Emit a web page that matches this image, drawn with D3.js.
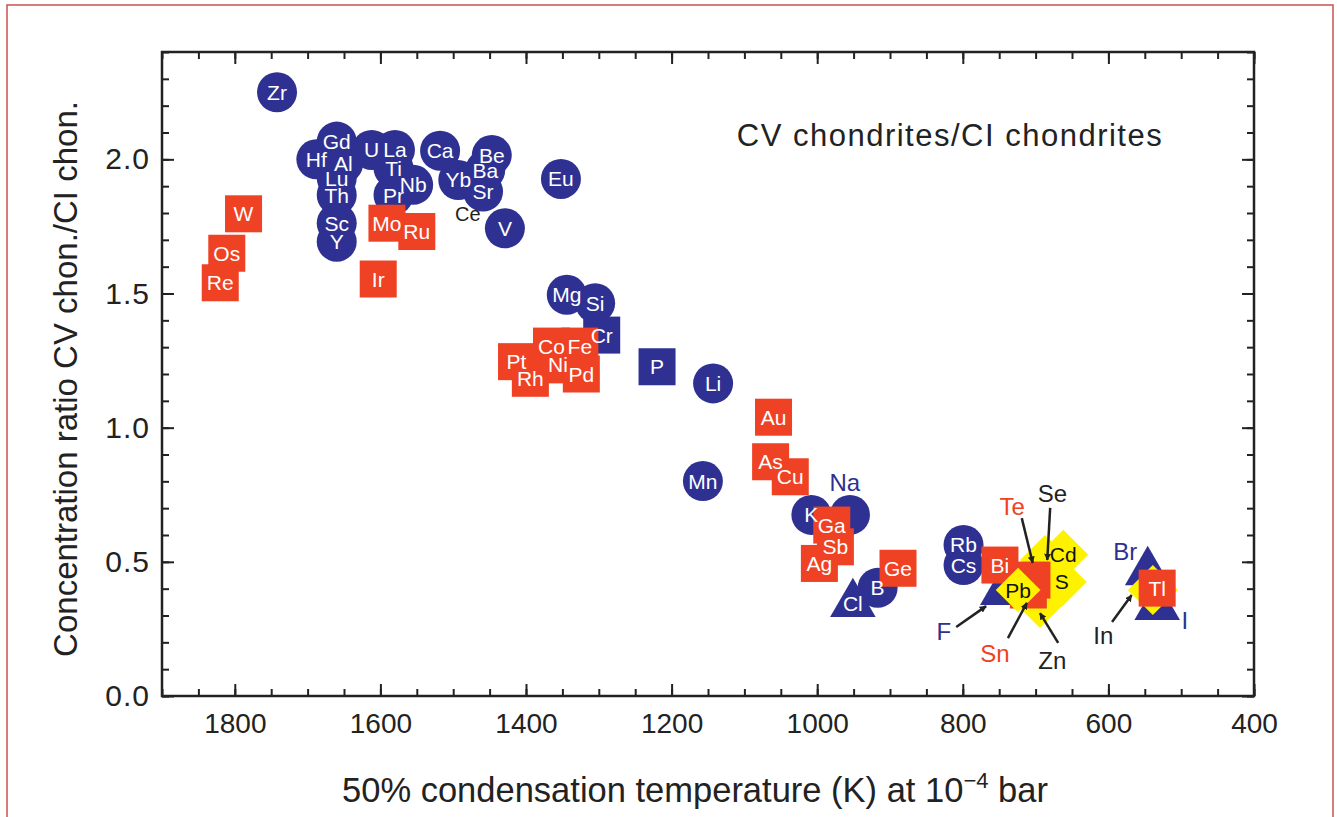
<!DOCTYPE html>
<html lang="en">

<head>
  <meta charset="UTF-8">
  <title>CV chondrites / CI chondrites</title>
  <script src="https://d3js.org/d3.v7.min.js"></script>
  <style>
    body {
      margin: 0;
      background: #fff;
      font-family: "Liberation Sans", Arial, sans-serif;
    }

    .tick text {
      font-size: 28px;
      fill: #222;
      font-family: "Liberation Sans", Arial, sans-serif;
    }

    .y-axis .tick text {
      font-size: 30px;
      letter-spacing: 1px;
    }

    .tick line {
      stroke: #222;
      stroke-width: 2px;
    }

    .mark-label {
      font-size: 21px;
      fill: #fff;
      text-anchor: middle;
      dominant-baseline: central;
    }

    .axis-title {
      fill: #222;
    }
  </style>
</head>

<body>
  <div id="chart"></div>

  <script>
    // [element, 50% condensation temperature (K), CV/CI ratio]
    const blueCircles = [
      ["Zr", 1742, 2.25], ["Hf", 1688, 2.00], ["Gd", 1660, 2.066], ["Al", 1651, 1.985],
      ["Lu", 1660, 1.93], ["Th", 1660, 1.867], ["Sc", 1660, 1.762], ["Y", 1660, 1.693],
      ["U", 1612, 2.035], ["La", 1580, 2.035], ["Ti", 1582, 1.967], ["Pr", 1582, 1.867],
      ["Nb", 1555, 1.905], ["Ca", 1518, 2.032], ["Be", 1447, 2.016], ["Ba", 1456, 1.96],
      ["Yb", 1493, 1.923], ["Sr", 1459, 1.88], ["V", 1429, 1.743], ["Eu", 1352, 1.927],
      ["Mg", 1344, 1.495], ["Si", 1305, 1.464], ["Li", 1143, 1.165], ["Mn", 1157, 0.801],
      ["K", 1008, 0.675], ["", 955, 0.675], ["B", 917, 0.403], ["Rb", 799, 0.563], ["Cs", 799, 0.488]
    ];

    const blueSquares = [["Cr", 1296, 1.345], ["P", 1220, 1.227]];

    const redSquares = [
      ["W", 1788, 1.797], ["Os", 1811, 1.65], ["Re", 1820, 1.54], ["Mo", 1591, 1.762],
      ["Ru", 1550, 1.731], ["Ir", 1603, 1.554], ["Pt", 1413, 1.246], ["Rh", 1394, 1.184],
      ["Co", 1365, 1.304], ["Fe", 1326, 1.304], ["Ni", 1356, 1.234], ["Pd", 1324, 1.20],
      ["Au", 1060, 1.039], ["As", 1064, 0.873], ["Cu", 1037, 0.817], ["Ga", 980, 0.637],
      ["Sb", 975, 0.556], ["Ag", 997, 0.494], ["Ge", 889, 0.476], ["Bi", 749, 0.488],
      ["", 705, 0.432], ["", 710, 0.395], ["Tl", 533, 0.402]
    ];

    const blueTriangles = [["Cl", 951, 0.343], ["", 745, 0.388], ["", 546, 0.462], ["", 533, 0.332]];

    const yellowDiamonds = [
      ["Cd", 662, 0.526], ["S", 664, 0.425], ["", 694, 0.347], ["", 687, 0.507], ["", 539, 0.395]
    ];
    const frontDiamonds = [["Pb", 724, 0.395]];

    // callout labels: [text, group, label T, label R, arrow from T, R, arrow to T, R]
    const callouts = [
      ["Ce", "black", 1480, 1.796],
      ["Na", "blue", 962, 0.794],
      ["Br", "blue", 577, 0.537],
      ["I", "blue", 495, 0.283],
      ["Te", "red", 732, 0.708, 719, 0.663, 704, 0.496],
      ["Se", "black", 677, 0.753, 680, 0.701, 684, 0.507],
      ["Sn", "red", 756, 0.157, 738, 0.216, 712, 0.347],
      ["Zn", "black", 677, 0.134, 669, 0.198, 694, 0.309],
      ["F", "blue", 826, 0.239, 809, 0.257, 768, 0.335],
      ["In", "black", 607, 0.227, 595, 0.276, 568, 0.376]
    ];

    const xTicks = [1800, 1600, 1400, 1200, 1000, 800, 600, 400];
    const yTicks = [0, 0.5, 1.0, 1.5, 2.0];

    const colors = { blue: "#2e3192", red: "#ef4123", yellow: "#fff200", black: "#222" };

    const W = 1337, H = 817;
    const plot = { left: 162, right: 1254, top: 52, bottom: 696 };

    const svg = d3.select("#chart").append("svg")
      .attr("width", W)
      .attr("height", H);

    // thin frame round the figure
    svg.append("rect")
      .attr("x", 7).attr("y", 5)
      .attr("width", 1326).attr("height", 840)
      .attr("fill", "none")
      .attr("stroke", "#c9514f")
      .attr("stroke-width", 1.5);

    const x = d3.scaleLinear().domain([1900, 400]).range([plot.left, plot.right]);
    const y = d3.scaleLinear().domain([0, 2.4]).range([plot.bottom, plot.top]);

    const xMinor = d3.range(1900, 399, -50);
    const yMinor = d3.range(0, 2.41, 0.1);

    // axes, ticks pointing inward on all four sides
    function addAxis(axis, tx, ty, cls) {
      const g = svg.append("g")
        .attr("class", cls || "")
        .attr("transform", `translate(${tx},${ty})`)
        .call(axis);
      g.select(".domain").remove();
      return g;
    }

    addAxis(d3.axisBottom(x).tickValues(xMinor).tickSize(-7).tickFormat(""), 0, plot.bottom);
    addAxis(d3.axisBottom(x).tickValues(xTicks).tickSize(-12).tickPadding(17).tickFormat(d3.format("d")), 0, plot.bottom);
    addAxis(d3.axisTop(x).tickValues(xMinor).tickSize(-7).tickFormat(""), 0, plot.top);
    addAxis(d3.axisTop(x).tickValues(xTicks).tickSize(-12).tickFormat(""), 0, plot.top);

    addAxis(d3.axisLeft(y).tickValues(yMinor).tickSize(-7).tickFormat(""), plot.left, 0);
    addAxis(d3.axisLeft(y).tickValues(yTicks).tickSize(-12).tickPadding(12).tickFormat(d3.format(".1f")), plot.left, 0, "y-axis");
    addAxis(d3.axisRight(y).tickValues(yMinor).tickSize(-7).tickFormat(""), plot.right, 0);
    addAxis(d3.axisRight(y).tickValues(yTicks).tickSize(-12).tickFormat(""), plot.right, 0);

    svg.append("rect")
      .attr("x", plot.left).attr("y", plot.top)
      .attr("width", plot.right - plot.left)
      .attr("height", plot.bottom - plot.top)
      .attr("fill", "none")
      .attr("stroke", "#222")
      .attr("stroke-width", 2.5);

    const marks = svg.append("g");
    const sq = 37;

    marks.selectAll(".circ")
      .data(blueCircles)
      .join("circle")
      .attr("class", "circ")
      .attr("cx", d => x(d[1]))
      .attr("cy", d => y(d[2]))
      .attr("r", 20)
      .attr("fill", colors.blue);

    marks.selectAll(".tri")
      .data(blueTriangles)
      .join("path")
      .attr("class", "tri")
      .attr("transform", d => `translate(${x(d[1])},${y(d[2])})`)
      .attr("d", d3.symbol(d3.symbolTriangle).size(900))
      .attr("fill", colors.blue);

    marks.selectAll(".dia")
      .data(yellowDiamonds)
      .join("path")
      .attr("class", "dia")
      .attr("transform", d => `translate(${x(d[1])},${y(d[2])}) rotate(45)`)
      .attr("d", d3.symbol(d3.symbolSquare).size(1250))
      .attr("fill", colors.yellow);

    marks.selectAll(".bsq")
      .data(blueSquares)
      .join("rect")
      .attr("class", "bsq")
      .attr("x", d => x(d[1]) - sq / 2)
      .attr("y", d => y(d[2]) - sq / 2)
      .attr("width", sq).attr("height", sq)
      .attr("fill", colors.blue);

    marks.selectAll(".rsq")
      .data(redSquares)
      .join("rect")
      .attr("class", "rsq")
      .attr("x", d => x(d[1]) - sq / 2)
      .attr("y", d => y(d[2]) - sq / 2)
      .attr("width", sq).attr("height", sq)
      .attr("fill", colors.red);

    marks.selectAll(".fdia")
      .data(frontDiamonds)
      .join("path")
      .attr("class", "fdia")
      .attr("transform", d => `translate(${x(d[1])},${y(d[2])}) rotate(45)`)
      .attr("d", d3.symbol(d3.symbolSquare).size(1000))
      .attr("fill", colors.yellow);

    // labels on the marks
    const onLight = yellowDiamonds.concat(frontDiamonds);
    const onDark = blueCircles.concat(blueSquares, redSquares, blueTriangles);

    marks.selectAll(".lab-dark")
      .data(onDark.filter(d => d[0]))
      .join("text")
      .attr("class", "mark-label lab-dark")
      .attr("x", d => x(d[1]))
      .attr("y", d => y(d[2]))
      .text(d => d[0]);

    marks.selectAll(".lab-light")
      .data(onLight.filter(d => d[0]))
      .join("text")
      .attr("class", "mark-label lab-light")
      .attr("x", d => x(d[1]))
      .attr("y", d => y(d[2]))
      .style("fill", "#111")
      .text(d => d[0]);

    // arrows for the crowded volatile elements
    svg.append("defs").append("marker")
      .attr("id", "arrow")
      .attr("viewBox", "0 -5 10 10")
      .attr("refX", 9).attr("refY", 0)
      .attr("markerWidth", 7).attr("markerHeight", 7)
      .attr("markerUnits", "userSpaceOnUse")
      .attr("orient", "auto")
      .append("path")
      .attr("d", "M0,-5L10,0L0,5Z")
      .attr("fill", "#222");

    svg.selectAll(".arrow")
      .data(callouts.filter(d => d.length > 4))
      .join("line")
      .attr("class", "arrow")
      .attr("x1", d => x(d[4])).attr("y1", d => y(d[5]))
      .attr("x2", d => x(d[6])).attr("y2", d => y(d[7]))
      .attr("stroke", "#222")
      .attr("stroke-width", 2.5)
      .attr("marker-end", "url(#arrow)");

    svg.selectAll(".callout")
      .data(callouts)
      .join("text")
      .attr("class", "callout")
      .attr("x", d => x(d[2]))
      .attr("y", d => y(d[3]))
      .attr("text-anchor", "middle")
      .attr("dominant-baseline", "central")
      .style("font-size", d => d[0] === "Ce" ? "20px" : "24px")
      .style("fill", d => colors[d[1]])
      .text(d => d[0]);

    // annotation
    svg.append("text")
      .attr("x", 950).attr("y", 135)
      .attr("text-anchor", "middle")
      .attr("dominant-baseline", "central")
      .style("font-size", "31px")
      .style("letter-spacing", "1.5px")
      .style("fill", "#222")
      .text("CV chondrites/CI chondrites");

    // axis titles
    svg.append("text")
      .attr("class", "axis-title")
      .attr("transform", "translate(77,379) rotate(-90)")
      .attr("text-anchor", "middle")
      .style("font-size", "33px")
      .text("Concentration ratio CV chon./CI chon.");

    const xt = svg.append("text")
      .attr("class", "axis-title")
      .attr("x", 695).attr("y", 802)
      .attr("text-anchor", "middle")
      .style("font-size", "34.5px");
    xt.append("tspan").text("50% condensation temperature (K) at 10");
    xt.append("tspan").attr("dy", -14).style("font-size", "22px").text("\u22124");
    xt.append("tspan").attr("dy", 14).text(" bar");
  </script>
</body>

</html>
